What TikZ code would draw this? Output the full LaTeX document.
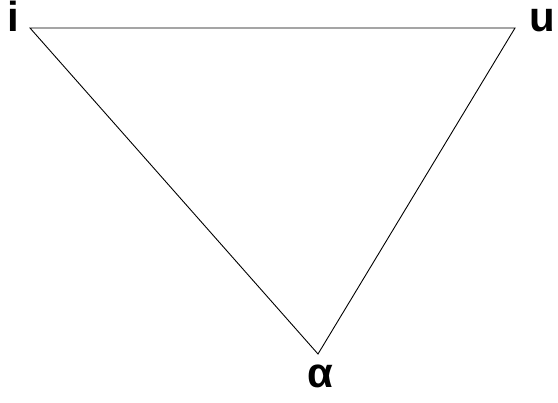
\documentclass[tikz,border=0pt]{standalone}
\usepackage{fontspec}
\setmainfont{Liberation Sans}
\begin{document}
\begin{tikzpicture}[x=1pt,y=-1pt,
  lbl/.style={inner sep=0pt,anchor=base,font=\fontsize{42}{44}\selectfont\bfseries},
  edge/.style={draw=black,line width=0.9pt}]
\useasboundingbox (0,0) rectangle (558,403);
\coordinate (A) at (30,28);
\coordinate (B) at (515,28);
\coordinate (C) at (318,354);
\node[lbl] (li) at (13.5,32) {i};
\node[lbl] (lu) at (542,32) {u};
\node[lbl] (la) at (320,388) {α};
\draw[edge] (A) -- (B) -- (C) -- cycle;
\end{tikzpicture}
\end{document}
